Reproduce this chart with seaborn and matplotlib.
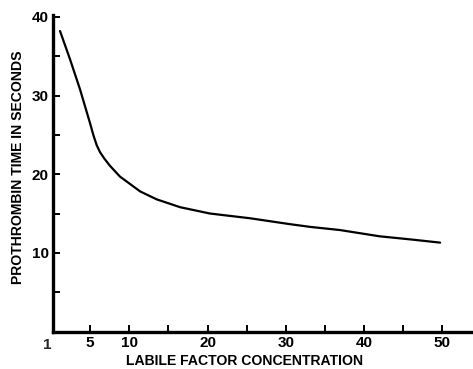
import numpy as np
import pandas as pd
import seaborn as sns
import matplotlib.pyplot as plt

# values
concentration = [1.15, 2.43, 3.7, 4.98, 5.4, 5.83, 6.26, 6.8, 7.5, 8.8, 11.4, 13.5,
                 16.5, 20.3, 25.4, 30.5, 33.1, 36.9, 42.0, 46.0, 49.7]
prothrombin_time = [38.2, 34.6, 30.8, 26.5, 25.0, 23.7, 22.8, 22.0, 21.1, 19.7, 17.8,
                    16.8, 15.8, 15.0, 14.4, 13.65, 13.3, 12.9, 12.1, 11.7, 11.3]

x_ticks = [5, 10, 15, 20, 25, 30, 35, 40, 45, 50]
x_labels = ['5', '10', '', '20', '', '30', '', '40', '', '50']
y_ticks = [5, 10, 15, 20, 25, 30, 35, 40]
y_labels = ['', '10', '', '20', '', '30', '', '40']

df = pd.DataFrame({'conc': concentration, 'time': prothrombin_time})

sns.set_theme(style='ticks')
plt.rcParams['font.family'] = ['Liberation Sans', 'DejaVu Sans']

fig = plt.figure(figsize=(4.73, 3.69), dpi=100)
ax = fig.add_axes([0.112, 0.1016, 0.888, 0.858])

sns.lineplot(data=df, x='conc', y='time', color='black', linewidth=1.6, ax=ax,
             solid_joinstyle='round')

ax.set_xlim(0.25, 53.9)
ax.set_ylim(0, 40.25)

ax.set_xticks(x_ticks)
ax.set_xticklabels(x_labels)
ax.set_yticks(y_ticks)
ax.set_yticklabels(y_labels)

ax.tick_params(direction='in', length=5, width=1.4, colors='black',
               labelsize=11, pad=3)
for lab in ax.get_xticklabels() + ax.get_yticklabels():
    lab.set_fontweight('bold')

ax.text(-0.5, -0.8, '1', ha='center', va='top', fontsize=11,
        fontweight='bold', clip_on=False)

sns.despine(ax=ax)
ax.spines['left'].set_linewidth(2.4)
ax.spines['bottom'].set_linewidth(2.4)
ax.spines['left'].set_color('black')
ax.spines['bottom'].set_color('black')

ax.set_xlabel('LABILE FACTOR CONCENTRATION', fontsize=10.1,
              fontweight='bold', color='black')
ax.set_ylabel('PROTHROMBIN TIME IN SECONDS', fontsize=10.1,
              fontweight='bold', color='black')
ax.xaxis.set_label_coords(0.457, -0.07)
ax.yaxis.set_label_coords(-0.067, 0.52)

fig.savefig('out.png', dpi=100)
